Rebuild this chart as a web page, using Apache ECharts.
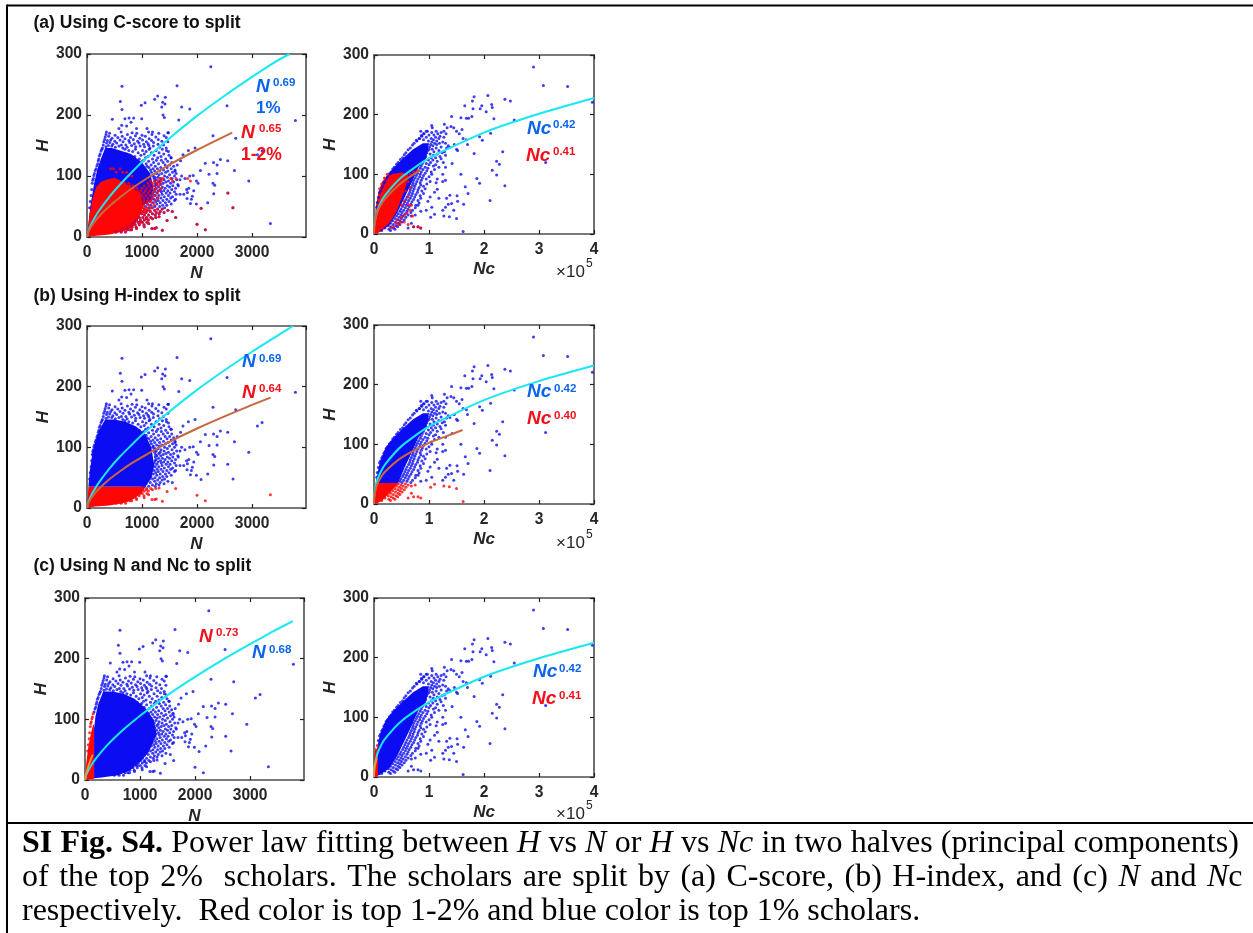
<!DOCTYPE html>
<html><head><meta charset="utf-8">
<style>html,body{margin:0;padding:0;background:#fff}#c{width:1253px;height:933px}</style>
<script src="https://cdn.jsdelivr.net/npm/echarts@6/dist/echarts.min.js"></script></head>
<body><div id="c"></div>
<script>
// ---- scholars: [N, H] ----
const outliersN=[[2250,279],[636,247],[1636,248],[606,222],[636,209],[460,193],[690,194],[764,195],[848,195],[994,194],[988,216],[1055,220],[1230,226],[1285,231],[1424,229],[1376,221],[1358,213],[1418,218],[1382,200],[1406,196],[1721,213],[1867,210],[1667,192],[2545,215],[3788,191],[2290,166],[2703,162],[1964,146],[3097,135],[3182,141],[2940,92],[2680,109],[2557,125],[2424,127],[2364,118],[2300,122],[2150,121],[1842,142],[1745,135],[2218,103],[2364,104],[2060,109],[2290,88],[2320,85],[2303,71],[2557,72],[2194,56],[2654,48],[2073,47],[1988,54],[1897,62],[1818,63],[1758,70],[1825,73],[1915,67],[1940,76],[2018,88],[1867,100],[1930,101],[1780,96],[1720,100],[1690,94],[1880,55],[1810,78],[1850,80],[1990,92],[3333,22],[2000,21],[2151,12],[1612,32],[1455,27],[1370,11],[1260,15],[1310,33],[1190,30],[1120,22],[1230,14],[1180,14],[1080,30],[1040,17],[960,24],[900,14],[840,20],[780,12],[630,183],[580,178],[720,182],[800,188],[900,178],[1090,178],[1190,172],[1480,171],[1530,130],[1600,108],[1640,118],[1700,125],[1660,84],[1610,62],[1690,70],[1550,42],
[270,144],[255,141],[240,136],[225,133],[215,128],[205,125],[195,120],[180,117],[165,112],[150,109],[135,104],[125,101],[115,96],[105,93],[95,88],[85,78],[75,68],[60,58],[48,48]];
// fringe of the dense cloud, read row by row: [H, N values]
const rowsN=[[172,[352,620,1120]],[171,[820,1470]],[170,[410,905,1305]],[168,[345,735,1180]],[167,[510,1000]],[166,[880,1400]],[165,[395,640,1060]],[164,[330,1250]],[163,[560,790,1440]],[162,[455,960]],[161,[690,1130]],[160,[320,840,1295]],[159,[430,600,1010]],[158,[370,760,1175]],[157,[505,920,1360]],[156,[305,655,1080,1470]],[155,[415,775,1210]],[154,[355,540,945]],[153,[860,1110]],[152,[470,1030,1290]],[151,[295,625,705,1390]],[150,[390,810,1125]],[149,[450,580,965,1205]],[148,[345,885,1045]],[147,[515,730,1320]],[146,[280,650,1145,1440]],
[144,[690,880,1130,1370]],[142,[760,1010,1255,1445]],[140,[830,1075,1480]],[138,[930,1170,1310]],[136,[720,1040,1395]],[134,[980,1220,1490]],[132,[870,1110,1345]],[130,[1065,1285,1525]],[128,[950,1190,1430]],[126,[1030,1350,1260]],[124,[1120,1465,1005]],[122,[1210,1385,1540]],[120,[1075,1300]],[118,[1165,1420,1500]],[116,[1090,1240,1575]],[114,[1340,1125,1455]],[112,[1200,1530,1280]],[110,[1155,1390,1600]],[108,[1320,1230,1470]],[106,[1170,1430,1555]],[104,[1265,1360,1620]],[102,[1205,1500,1310]],[100,[1410,1195,1590]],[98,[1290,1460,1235]],[96,[1345,1545,1220]],[94,[1400,1260,1630]],[92,[1230,1480,1330]],[90,[1305,1575,1435]],[88,[1245,1385,1520]],[86,[1340,1650,1270]],[84,[1460,1240,1560]],[82,[1370,1300,1500]],[80,[1255,1420,1610]],[78,[1335,1235,1540]],[76,[1470,1290,1395]],[74,[1225,1590,1350]],[72,[1440,1270,1510]],[70,[1200,1365,1620]],[68,[1305,1480,1240]],[66,[1405,1185,1555]],[64,[1275,1345,1520]],[62,[1170,1450,1220]],[60,[1380,1590,1295]],[58,[1140,1250,1490]],[56,[1330,1205,1425]],[54,[1100,1530,1270]],[52,[1160,1375,1450]],[50,[1235,1065,1320]],[48,[1130,1410,1190]],[46,[1285,1040,1365]],[44,[1095,1230,1470]],[42,[1150,1330,1015]],[40,[1075,1260,1400]],[38,[995,1190,1310]],[36,[1120,1240,1045]],
[32,[950,1015,1085,1160,1250]],[28,[900,970,1040,1115]],[24,[860,930,1005,1090]],[20,[800,875,950,1035]],[16,[740,815,895]],[12,[650,730,810]],[8,[530,620,700]]];
// extra reds of panel (a) left, [H, N values]
const redRowsAN=[[96,[1320,1380,1520,1620,1830]],[92,[1150,1230,1290,1350,1555,1880]],[88,[690,760,1100,1190,1270,1330]],[84,[780,840,1040,1130,1215,1300]],[80,[860,910,1000,1090,1170,1250,1350]],[76,[920,980,1060,1140,1225,1310]],[72,[950,1030,1110,1190,1280,2564]],[68,[1000,1070,1150,1230]],[64,[1030,1110,1190,1290]],[60,[1040,1100,1160,1250]],[56,[1030,1090,1180]],[52,[1030,1130,1220]],[48,[1020,1090,1170,2648]],[44,[980,1060,1140]],[40,[970,1040]],[112,[430,480,600]],[106,[530,650,720]],[100,[760,820]]];
const blueCoreAN=[[0,0],[60,50],[130,88],[190,112],[260,130],[330,146],[450,146],[600,142],[800,136],[1000,122],[1150,104],[1210,80],[1150,60],[1000,50],[800,30],[400,10]];
const redCoreAN=[[0,0],[48,39],[110,67],[170,82],[250,90],[350,94],[500,97],[655,90],[836,80],[980,70],[1018,50],[958,34],[836,17],[655,9],[412,4],[170,2]];
const blueCoreBN=[[25,35],[50,60],[100,92],[170,115],[230,130],[330,146],[500,146],[700,142],[900,134],[1050,122],[1170,100],[1220,70],[1170,50],[1060,35]];
const redCoreBN=[[0,0],[25,35],[1060,35],[1000,25],[850,15],[650,8],[400,4],[150,2.5]];
const blueCoreCN=[[165,3],[165,85],[190,105],[240,125],[330,146],[500,146],[700,142],[900,134],[1100,118],[1250,98],[1300,75],[1150,45],[1000,30],[800,15],[600,8],[300,4]];
const redCoreCN=[[0,0],[20,25],[60,55],[110,78],[150,92],[165,90],[165,2],[60,1]];
// ---- scholars: [Nc in units of 10^5, H] ----
const outliersNc=[[2.90,280],[3.08,249],[3.52,247],[3.97,221],[1.82,230],[2.07,232],[2.38,226],[2.48,223],[2.14,217],[2.15,212],[1.79,223],[1.65,215],[1.80,210],[1.96,215],[1.93,210],[2.04,205],[1.68,194],[1.72,194],[1.78,197],[1.58,195],[1.41,197],[2.18,193],[2.55,191],[2.12,169],[1.92,163],[1.97,157],[1.82,135],[2.34,138],[2.23,122],[2.28,117],[2.15,107],[2.23,99],[2.38,81],[3.12,120],[1.87,93],[1.92,85],[2.11,56],[1.62,4],[1.66,79],[1.71,68],[1.63,50],[1.58,100],[1.52,55],[1.51,64],[1.50,26],[1.37,29],[1.27,30],[1.10,33],[1.03,28],[1.30,45],[1.41,51],[1.38,65],[1.45,40],[1.35,50],[1.25,40],[0.85,10],[0.80,12],[0.72,12],[0.68,18],[0.62,10],[1.40,180],[1.45,178],[1.50,172],[1.55,168],[1.60,175],[1.62,160],[1.68,158],[1.70,150],[1.46,150],[1.50,142],[1.38,145],[1.42,118],[1.52,140],[1.30,112],[1.25,100],[1.15,92],[1.30,90],[1.13,86],[1.10,70],[1.25,88],[0.98,55],[1.02,62],[1.15,75],[1.18,60],[1.05,45],[0.95,40],[0.85,38],[0.80,48],[0.75,32],[1.32,60],[0.68,30],[1.05,182],[1.06,178],[0.85,172],[1.28,184],[1.33,178],
[0.66,144],[0.62,141],[0.58,136],[0.55,133],[0.52,128],[0.48,125],[0.44,120],[0.41,117],[0.37,112],[0.34,109],[0.31,104],[0.28,101],[0.25,96],[0.22,93],[0.2,88],[0.18,85],[0.16,80],[0.14,77],[0.12,72],[0.1,69],[0.08,61],[0.06,53],[0.05,45],[0.73,152],[0.7,149],[0.77,157],[0.82,160],[0.86,165],[0.9,168],[0.95,172]];
// crescent fringe, read row by row: [H, Nc values]
const rowsNc=[[172,[0.97,1.13,1.27]],[170,[1.05,1.22]],[168,[0.91,1.16,1.31]],[166,[1.0,1.09]],[164,[0.87,1.2]],[162,[0.95,1.12,1.27]],[160,[0.83,1.04,1.18]],[158,[0.9,1.08]],[156,[0.78,0.99,1.14]],[154,[1.05,1.25]],[152,[1.1,1.19,1.3]],[150,[1.03,1.14]],[148,[1.07,1.35]],[146,[1.01,1.22]],[144,[1.13,1.32]],[142,[1.06,1.0]],[140,[0.98,1.18]],[138,[1.09,1.28]],[136,[0.96,1.24]],[134,[1.02,1.15]],[132,[1.08,1.3]],[130,[0.94,1.2]],[128,[1.04,1.12]],[126,[0.92,1.22]],[124,[0.99,1.07]],[122,[1.15,0.9]],[120,[1.03,1.26]],[118,[0.88,0.95]],[116,[1.0,1.12]],[114,[0.86,1.08]],[112,[0.93,1.18]],[110,[0.98,0.84]],[108,[0.89,1.1]],[106,[0.81,0.96]],[104,[0.86,1.04]],[102,[0.79,0.93]],[100,[0.84,1.05]],[98,[0.77,0.9]],[96,[0.83,1.0]],[94,[0.75,0.88]],[92,[0.8,0.95]],[90,[0.72,0.86]],[88,[0.78,1.02]],[86,[0.71,0.84]],[84,[0.76,0.96]],[82,[0.7,0.85]],[80,[0.74,0.9]],[78,[0.68,0.82]],[76,[0.73,0.93]],[74,[0.66,0.8]],[72,[0.71,0.87]],[70,[0.65,0.79]],[68,[0.7,0.9]],[66,[0.63,0.76]],[64,[0.68,0.84]],[62,[0.6,0.74]],[60,[0.66,0.85]],[58,[0.58,0.72]],[56,[0.63,0.8]],[54,[0.56,0.69]],[52,[0.61,0.82]],[50,[0.54,0.67]],[48,[0.59,0.76]],[46,[0.52,0.64]],[44,[0.57,0.75]],[42,[0.49,0.62]],[40,[0.54,0.7]],[38,[0.47,0.6]],[36,[0.51,0.67]],[34,[0.44,0.57]],[32,[0.49,0.62]],[30,[0.41,0.53]],[28,[0.46,0.58]],[26,[0.38,0.5]],[24,[0.43,0.55]],[22,[0.34,0.47]],[20,[0.39,0.51]],[18,[0.3,0.44]],[16,[0.35,0.47]],[14,[0.26,0.4]],[12,[0.31,0.43]],[10,[0.2,0.35]],[8,[0.27,0.38]],[6,[0.14,0.3]]];
const redExtraANc=[[0.55,98],[0.60,95],[0.66,100],[0.72,104],[0.78,106],[0.62,88],[0.58,72],[0.62,62],[0.66,78],[0.55,55],[0.50,48],[0.62,48],[0.66,40],[0.70,30],[0.60,35],[0.55,32],[0.50,28],[0.48,20],[0.45,16],[0.40,18],[0.36,12],[0.30,10],[0.42,24],[0.68,48],[0.80,12],[0.85,10],[0.72,12],[0.62,16],[0.55,20],[0.10,76],[0.14,84],[0.19,94],[0.24,100]];
const blueCoreNc=[[0,0],[0.04,40],[0.10,68],[0.22,96],[0.38,113],[0.53,127],[0.71,142],[0.89,152],[1.0,152],[0.95,128],[0.8,110],[0.68,85],[0.55,60],[0.42,35],[0.28,15],[0.12,4]];
const redCoreANc=[[0,0],[0.03,45],[0.08,70],[0.15,88],[0.22,96],[0.35,101],[0.5,103],[0.62,100],[0.58,80],[0.5,60],[0.42,40],[0.3,20],[0.15,6],[0.05,1]];
const blueCoreBNc=[[0.03,35],[0.04,40],[0.10,68],[0.22,96],[0.38,113],[0.53,127],[0.71,142],[0.89,152],[1.0,152],[0.95,128],[0.8,110],[0.68,85],[0.55,60],[0.44,35]];
const redCoreBNc=[[0,0],[0.03,35],[0.44,35],[0.3,20],[0.15,6],[0.05,1]];
const redCoreCNc=[[0,0],[0.005,35],[0.03,50],[0.07,42],[0.07,2],[0.03,0]];
// ---- fit curves ----
const cyanAN=[[0,0],[20,8.3],[50,15.6],[100,25],[200,40.5],[400,65],[600,86],[800,105],[1000,123],[1500,162],[2000,198.5],[2500,231.5],[3000,262.5],[3400,286],[3680,300]];
const orangeAN=[[0,0],[20,7.1],[50,13],[100,20.4],[200,32],[400,50],[600,65],[800,78.6],[1000,91],[1500,118.5],[2000,142.6],[2640,171]];
const cyanANc=[[0,0],[0.002,9.3],[0.01,18.3],[0.05,36],[0.1,48.3],[0.2,64.6],[0.5,95],[1,127],[2,170],[3,201.5],[4,228]];
const orangeANc=[[0,0],[0.002,9],[0.01,18],[0.05,34],[0.1,45],[0.2,59],[0.5,86],[0.84,107]];
const cyanBN=[[0,0],[20,8.1],[50,15.3],[100,24.6],[200,39.7],[400,64],[600,84.8],[800,103],[1000,120.7],[1500,159],[2000,194.7],[2500,227],[3000,257.5],[3400,280.5],[3745,300]];
const orangeBN=[[0,0],[20,6.9],[50,12.4],[100,19.2],[200,30],[400,46.8],[600,60.6],[800,73],[1000,84],[1500,109],[2000,131],[2500,151],[3000,170],[3335,182]];
const cyanBNc=[[0,0],[0.002,9.5],[0.01,18.7],[0.05,37],[0.1,49.5],[0.2,66],[0.5,97],[1,130],[2,174],[3,206],[4,232]];
const orangeBNc=[[0,0],[0.002,8.5],[0.01,16.2],[0.05,31],[0.1,40.8],[0.2,54],[0.5,77.7],[1,102.5],[1.3,113],[1.61,124]];
const cyanCN=[[0,0],[20,7.4],[50,13.9],[100,22.2],[200,35.5],[400,57],[600,75],[800,91],[1000,106],[1500,140],[2000,170],[2500,198],[3000,224],[3400,244],[3776,262]];
const orangeCN=[[0,0],[20,10.2],[50,19.8],[100,32.8],[140,42]];
const cyanCNc=[[0,0],[0.002,9.2],[0.01,18],[0.05,35.6],[0.1,47.7],[0.2,63.8],[0.5,94],[1,125.5],[2,168],[3,199],[4,225]];
const orangeCNc=[[0,0],[0.002,9],[0.01,17],[0.05,32]];
// ---- text ----
const titles=['(a) Using C-score to split','(b) Using H-index to split','(c) Using N and Nc to split'];

const BLUE='#0c0cf2',RED='#ff0505',CYAN='#17e8f2',ORANGE='#c9673f',ANB='#0b64ee',ANR='#f40f1a';
const FONT='"Liberation Sans",Arial,sans-serif',SERIF='"Liberation Serif","Times New Roman",serif';
const expand=rows=>rows.flatMap(([h,xs])=>xs.map(x=>[x,h]));
const scholarsN=outliersN.concat(expand(rowsN)), scholarsNc=outliersNc.concat(expand(rowsNc));
const isLowH=p=>p[1]<35;
const redAN=expand(redRowsAN).concat(scholarsN.filter(p=>p[1]<48&&p[0]<3000&&p[0]>100));
const panels=[
 {g:[87,54,219,183],nc:0,bc:blueCoreAN,rc:redCoreAN,b:scholarsN,r:redAN,cy:cyanAN,or:orangeAN},
 {g:[374,55,220,179],nc:1,bc:blueCoreNc,rc:redCoreANc,b:scholarsNc,r:redExtraANc,cy:cyanANc,or:orangeANc},
 {g:[87,326,219,182],nc:0,bc:blueCoreBN,rc:redCoreBN,b:scholarsN.filter(p=>!isLowH(p)),r:scholarsN.filter(isLowH),cy:cyanBN,or:orangeBN},
 {g:[374,325,220,179],nc:1,bc:blueCoreBNc,rc:redCoreBNc,b:scholarsNc.filter(p=>!isLowH(p)),r:scholarsNc.filter(isLowH),cy:cyanBNc,or:orangeBNc},
 {g:[85,598,219,182],nc:0,bc:blueCoreCN,rc:redCoreCN,b:scholarsN.filter(p=>p[0]>=165),r:scholarsN.filter(p=>p[0]<165),cy:cyanCN,or:orangeCN,oc:'#e9983a'},
 {g:[374,598,220,179],nc:1,bc:blueCoreNc,rc:redCoreCNc,b:scholarsNc.filter(p=>p[0]>=0.07||p[1]>55),r:scholarsNc.filter(p=>p[0]<0.07&&p[1]<=55),cy:cyanCNc,or:orangeCNc,oc:'#e9983a'}
];
const grid=[],xAxis=[],yAxis=[],series=[];
const lineC='#4d4d4d';
panels.forEach((p,i)=>{
 grid.push({left:p.g[0],top:p.g[1],width:p.g[2],height:p.g[3]});
 const xMax=p.nc?4:3980, xInt=p.nc?1:1000;
 const base={min:0,type:'value',splitLine:{show:false},axisLine:{show:true,onZero:false,lineStyle:{color:lineC,width:1.6}},axisTick:{show:true,inside:true,length:4,lineStyle:{color:'#222',width:1.2}}};
 const lab={color:'#262626',fontWeight:'bold',fontFamily:FONT,fontSize:15.6,formatter:v=>String(v)};
 const nm={color:'#262626',fontWeight:'bold',fontStyle:'italic',fontFamily:FONT,fontSize:17};
 xAxis.push({...base,gridIndex:i,max:xMax,interval:xInt,position:'bottom',axisLabel:{...lab,margin:8,showMaxLabel:!!p.nc},name:p.nc?'Nc':'N',nameLocation:'middle',nameGap:p.nc?27:28,nameTextStyle:nm});
 xAxis.push({...base,gridIndex:i,max:xMax,interval:xInt,position:'top',axisLabel:{show:false}});
 yAxis.push({...base,gridIndex:i,max:300,interval:100,position:'left',axisLabel:{...lab,margin:5},name:'H',nameLocation:'middle',nameGap:p.nc?33:29,nameTextStyle:nm});
 yAxis.push({...base,gridIndex:i,max:300,interval:100,position:'right',axisLabel:{show:false}});
 const xi=i*2,yi=i*2;
 const poly=(verts,color)=>({type:'custom',xAxisIndex:xi,yAxisIndex:yi,data:verts,clip:true,silent:true,
   renderItem:(params,api)=>{ if(params.dataIndex!==0) return null;
     return {type:'polygon',shape:{points:verts.map(v=>api.coord(v))},style:{fill:color}}; }});
 const dots=(d,color)=>({type:'scatter',xAxisIndex:xi,yAxisIndex:yi,data:d,symbolSize:3,itemStyle:{color},silent:true});
 const line=(d,color)=>({type:'line',xAxisIndex:xi,yAxisIndex:yi,data:d,smooth:0.2,showSymbol:false,lineStyle:{color,width:2},silent:true});
 series.push(poly(p.bc,BLUE),dots(p.b,BLUE),poly(p.rc,RED),dots(p.r,RED),line(p.cy,CYAN),line(p.or,p.oc||ORANGE));
});
const graphic=[];
const txt=(x,y,text,o)=>graphic.push({type:'text',silent:true,z:50,style:Object.assign({x,y,text,fontFamily:FONT,fontWeight:'bold',fontSize:18,fill:'#000',verticalAlign:'middle'},o||{})});
const ann=(x,y,main,sx,sy,sup,c)=>{txt(x,y,main,{fill:c,fontStyle:'italic',fontSize:19});txt(sx,sy,sup,{fill:c,fontSize:11.5});};
titles.forEach((t,i)=>txt(33.5,[23,296,566][i],t,{fontSize:17.5,fill:'#111'}));
ann(256,87,'N',273,83,'0.69',ANB);txt(256,108,'1%',{fill:ANB,fontSize:17});
ann(241,133,'N',259,129,'0.65',ANR);txt(241,155,'1-2%',{fill:ANR,fontSize:17.5});
ann(527,129,'Nc',553,125,'0.42',ANB);ann(526,156,'Nc',553,152,'0.41',ANR);
ann(242,362,'N',259,359,'0.69',ANB);ann(242,393,'N',259,389,'0.64',ANR);
ann(527,392,'Nc',554,389,'0.42',ANB);ann(527,419,'Nc',554,416,'0.40',ANR);
ann(199,637,'N',216,633,'0.73',ANR);ann(252,653,'N',269,650,'0.68',ANB);
ann(533,672,'Nc',559,669,'0.42',ANB);ann(532,699,'Nc',559,696,'0.41',ANR);
[[556,272],[556,543],[556,814]].forEach(q=>{
 txt(q[0],q[1],'×10',{fontWeight:'normal',fontSize:17,fill:'#262626'});
 txt(q[0]+30,q[1]-8,'5',{fontWeight:'normal',fontSize:12,fill:'#262626'});
});
const rule=(x1,y1,x2,y2)=>graphic.push({type:'line',silent:true,z:40,shape:{x1,y1,x2,y2},style:{stroke:'#000',lineWidth:2}});
rule(7,5.5,1253,5.5);rule(7,4.5,7,933);rule(7,823,1253,823);
const CAP=32;
// caption runs: [style, text]; spaces get the line's word-space width so lines 1 and 2 are justified
const capLine1=[['b','SI Fig. S4.'],['r',' Power law fitting between '],['i','H'],['r',' vs '],['i','N'],['r',' or '],['i','H'],['r',' vs '],['i','Nc'],['r',' in two halves (principal components)']];
const capLine2=[['r','of the top 2%  scholars. The scholars are split by (a) C-score, (b) H-index, and (c) '],['i','N'],['r',' and '],['i','N'],['r','c']];
const capLine3=[['r','respectively.  Red color is top 1-2% and blue color is top 1% scholars.']];
const cap=(y,runs,sw)=>{
 const rich={r:{fontFamily:SERIF,fontSize:CAP,fill:'#000'},i:{fontFamily:SERIF,fontSize:CAP,fontStyle:'italic',fill:'#000'},b:{fontFamily:SERIF,fontSize:CAP,fontWeight:'bold',fill:'#000'},s:{fontFamily:SERIF,fontSize:CAP,width:sw}};
 const t=runs.map(([st,s])=>s.split(/( )/).filter(x=>x!=='').map(w=>w===' '?'{s| }':'{'+st+'|'+w+'}').join('')).join('');
 graphic.push({type:'text',silent:true,z:50,style:{x:22,y,text:t,rich,fontFamily:SERIF,fontSize:CAP,verticalAlign:'middle',fill:'#000'}});
};
cap(844,capLine1,8.25);cap(878,capLine2,10.5);cap(912,capLine3,8);
const chart=echarts.init(document.getElementById('c'));
chart.setOption({animation:false,backgroundColor:'#fff',grid,xAxis,yAxis,series,graphic});
</script></body></html>
